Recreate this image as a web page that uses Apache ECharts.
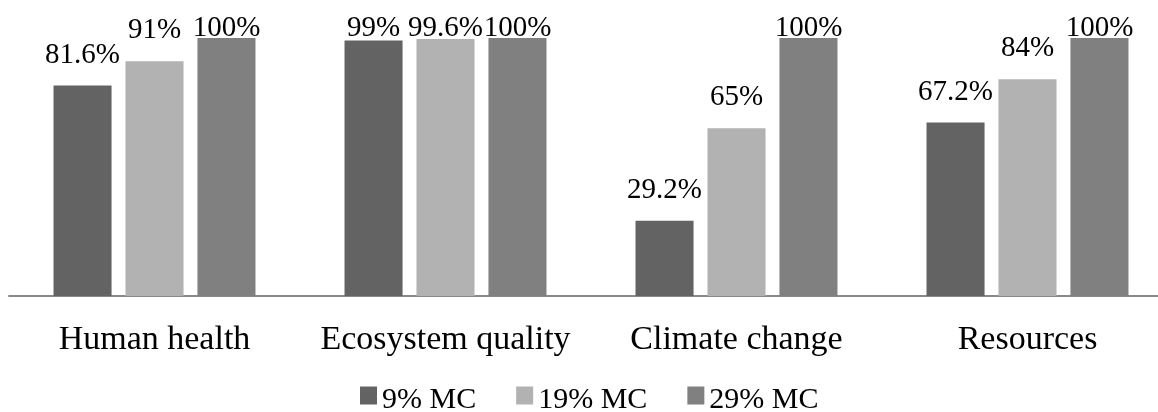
<!DOCTYPE html>
<html>
<head>
<meta charset="utf-8">
<script src="https://cdn.jsdelivr.net/npm/echarts@6/dist/echarts.min.js"></script>
<style>
html,body{margin:0;padding:0;background:#fff;}
#chart{width:1158px;height:412px;}
</style>
</head>
<body>
<div id="chart"></div>
<script>
var categories = ['Human health', 'Ecosystem quality', 'Climate change', 'Resources'];
var seriesNames = ['9% MC', '19% MC', '29% MC'];
var mc9 = [81.6, 99, 29.2, 67.2];
var mc19 = [91, 99.6, 65, 84];
var mc29 = [100, 100, 100, 100];
var colors = ['#636363', '#b2b2b2', '#808080'];

var font = '"Liberation Serif", "Times New Roman", serif';
var dataSets = [mc9, mc19, mc29];

var chart = echarts.init(document.getElementById('chart'));
var series = dataSets.map(function (d, i) {
  return {
    name: seriesNames[i],
    type: 'bar',
    data: d,
    barGap: '24%',
    barCategoryGap: '30.6%',
    itemStyle: { color: colors[i] },
    label: {
      show: true,
      position: 'top',
      distance: 16,
      formatter: '{c}%',
      color: '#000',
      fontFamily: font,
      fontSize: 29
    },
    labelLayout: function (p) {
      var r = p.labelRect;
      return { dy: Math.max(0, 14 - r.y) };
    }
  };
});

chart.setOption({
  animation: false,
  color: colors,
  grid: { left: 9, right: -15, top: 38, bottom: 116, containLabel: false, outerBoundsMode: 'none' },
  legend: {
    left: 355,
    top: 380,
    itemWidth: 17,
    itemHeight: 27,
    itemGap: 40,
    icon: 'path://M0,0h17v18h-17z M0,27',
    textStyle: { fontFamily: font, fontSize: 30, color: '#000' },
    data: seriesNames
  },
  xAxis: {
    type: 'category',
    data: categories,
    axisLine: { lineStyle: { color: '#898989', width: 2 } },
    axisTick: { show: false },
    axisLabel: { fontFamily: font, fontSize: 34, color: '#000', margin: 27, interval: 0 }
  },
  yAxis: {
    type: 'value',
    min: 0,
    max: 100,
    show: false,
    splitLine: { show: false }
  },
  series: series
});
</script>
</body>
</html>
